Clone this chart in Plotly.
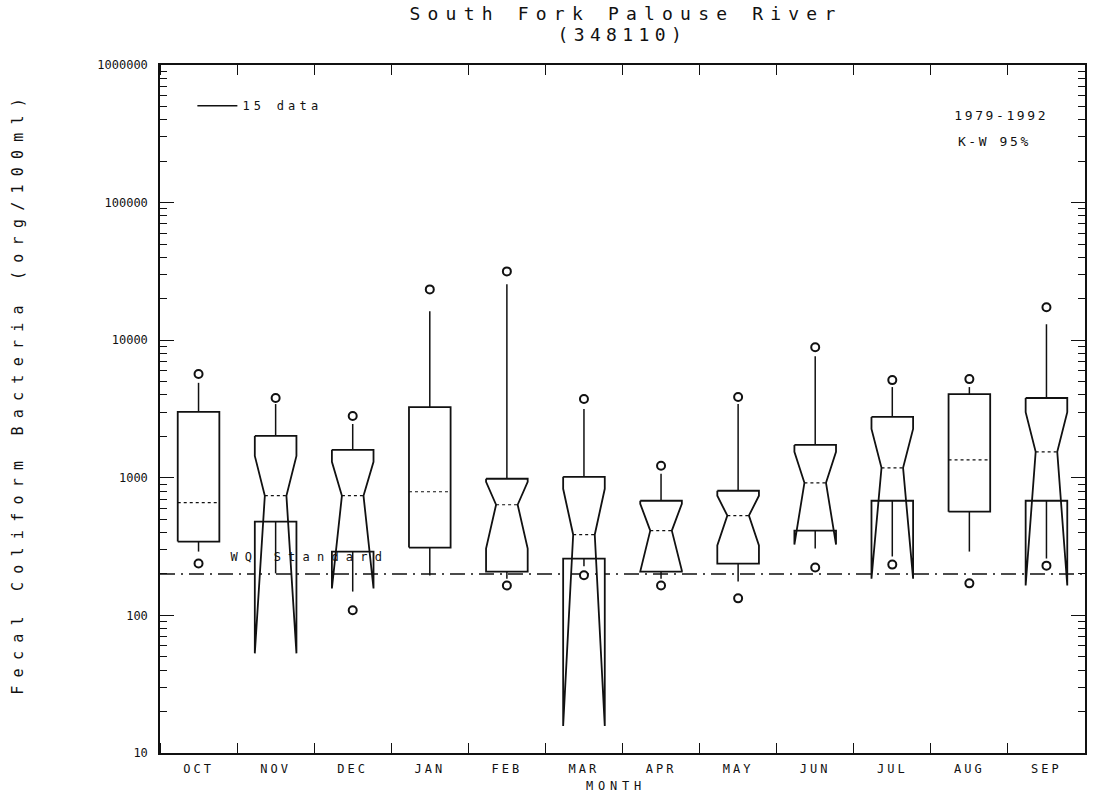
import numpy as np
import plotly.graph_objects as go

# Monthly fecal coliform summary statistics (org/100ml), water years 1979-1992
months = ["OCT", "NOV", "DEC", "JAN", "FEB", "MAR", "APR", "MAY", "JUN", "JUL", "AUG", "SEP"]
q1 = [344, 480, 291, 311, 208, 259, 208, 238, 413, 681, 567, 681]
median = [659, 741, 741, 792, 637, 386, 413, 531, 920, 1181, 1350, 1543]
q3 = [3010, 2015, 1596, 3268, 984, 1017, 681, 805, 1734, 2768, 4062, 3800]
# 95% confidence notches on the median (None = box drawn without notch)
notch_lo = [None, 53, 157, None, 306, 15.7, 212, 322, 327, 185, None, 165]
notch_hi = [None, 1443, 1306, None, 935, 832, 648, 741, 1543, 2265, None, 3000]
whisker_lo = [291, 202, 149, 195, 185, 228, 185, 176, 306, 268, 291, 259]
whisker_hi = [4900, 3436, 2461, 16220, 25460, 3162, 1069, 3436, 7656, 4564, 4564, 13060]
extreme_lo = [238, None, 109, None, 165, 196, 165, 133, 223, 234, 171, 230]
extreme_hi = [5675, 3800, 2813, 23400, 31620, 3736, 1222, 3864, 8894, 5129, 5215, 17340]

wq_standard = 200
y_ticks = [10, 100, 1000, 10000, 100000, 1000000]
y_tick_text = ["10", "100", "1000", "10000", "100000", "1000000"]

FONT = "DejaVu Sans Mono"
INK = "#111111"
BOX_HALF = 0.27
WAIST_HALF = 0.14

fig = go.Figure()

# water quality standard (dash-dot)
fig.add_trace(go.Scatter(
    x=[-0.5, len(months) - 0.5], y=[wq_standard, wq_standard], mode="lines",
    line=dict(color=INK, width=1.4, dash="15px,6px,2px,6px"),
    hoverinfo="skip", showlegend=False))

for i, m in enumerate(months):
    h, w = BOX_HALF, WAIST_HALF
    if notch_lo[i] is None:
        bx = [i - h, i - h, i + h, i + h, i - h]
        by = [q1[i], q3[i], q3[i], q1[i], q1[i]]
        mx = [i - h, i + h]
    else:
        bx = [i - h, i - h, i - w, i - h, i - h, i + h, i + h, i + w, i + h, i + h, i - h]
        by = [q3[i], notch_hi[i], median[i], notch_lo[i], q1[i],
              q1[i], notch_lo[i], median[i], notch_hi[i], q3[i], q3[i]]
        mx = [i - w, i + w]
    # whiskers
    fig.add_trace(go.Scatter(
        x=[i, i, None, i, i],
        y=[q3[i], whisker_hi[i], None, q1[i], whisker_lo[i]],
        mode="lines", line=dict(color=INK, width=1.5),
        hoverinfo="skip", showlegend=False))
    # box outline
    fig.add_trace(go.Scatter(
        x=bx, y=by, mode="lines", fill="toself", fillcolor="white",
        line=dict(color=INK, width=1.8), name=m,
        hoverinfo="skip", showlegend=False))
    # median
    fig.add_trace(go.Scatter(
        x=mx, y=[median[i], median[i]], mode="lines",
        line=dict(color=INK, width=1.2, dash="dot"),
        hoverinfo="skip", showlegend=False))

# extreme values
ex_x, ex_y = [], []
for i in range(len(months)):
    for v in (extreme_lo[i], extreme_hi[i]):
        if v is not None:
            ex_x.append(i)
            ex_y.append(v)
fig.add_trace(go.Scatter(
    x=ex_x, y=ex_y, mode="markers",
    marker=dict(symbol="circle-open", size=8, color=INK, line=dict(width=2, color=INK)),
    hoverinfo="skip", showlegend=False))

# legend entry
fig.add_trace(go.Scatter(
    x=[None], y=[None], mode="lines", name="15 data",
    line=dict(color=INK, width=1.5), showlegend=True))

minor_y = [m * 10 ** d for d in range(1, 6) for m in range(2, 10)]
boundaries = [k - 0.5 for k in range(len(months) + 1)]

fig.update_layout(
    width=1094, height=799,
    margin=dict(l=160, r=7, t=65, b=46),
    paper_bgcolor="white", plot_bgcolor="white",
    font=dict(family=FONT, color=INK, size=12),
    title=dict(text="South Fork Palouse River",
               xref="container", yref="container",
               x=626 / 1094, y=1 - 14 / 799, xanchor="center", yanchor="middle",
               font=dict(family=FONT, size=18, color=INK)),
    showlegend=True,
    legend=dict(x=0.035, y=0.962, xanchor="left", yanchor="top", orientation="h",
                entrywidth=150, entrywidthmode="pixels", itemwidth=40,
                bgcolor="rgba(0,0,0,0)", font=dict(family=FONT, size=12, color=INK)),
    xaxis=dict(
        range=[-0.5, len(months) - 0.5], tickvals=list(range(len(months))), ticktext=months,
        ticks="", showline=True, linecolor=INK, linewidth=1.5, mirror="ticks",
        showgrid=False, zeroline=False, ticklabelstandoff=4,
        tickfont=dict(family=FONT, size=12, color=INK),
        minor=dict(tickmode="array", tickvals=boundaries, ticks="inside",
                   ticklen=10, tickwidth=1.3, tickcolor=INK, showgrid=False),
    ),
    yaxis=dict(
        type="log", range=[1, 6], tickvals=y_ticks, ticktext=y_tick_text,
        ticks="inside", ticklen=14, tickwidth=1.3, tickcolor=INK,
        showline=True, linecolor=INK, linewidth=1.5, mirror="ticks",
        showgrid=False, zeroline=False, ticklabelstandoff=8,
        tickfont=dict(family=FONT, size=12, color=INK),
        minor=dict(tickmode="array", tickvals=minor_y, ticks="inside",
                   ticklen=7, tickwidth=1.2, tickcolor=INK, showgrid=False),
    ),
    annotations=[
        dict(text="Fecal Coliform Bacteria (org/100ml)", textangle=-90,
             xref="paper", yref="paper", x=(18 - 160) / 927, y=(753 - 392) / 688,
             xanchor="center", yanchor="middle", showarrow=False,
             font=dict(family=FONT, size=15, color=INK)),
        dict(text="MONTH", xref="paper", yref="paper",
             x=(617 - 160) / 927, y=(753 - 786) / 688,
             xanchor="center", yanchor="middle", showarrow=False,
             font=dict(family=FONT, size=12, color=INK)),
        dict(text="1979-1992", xref="paper", yref="paper",
             x=(1003 - 160) / 927, y=(753 - 115) / 688,
             xanchor="center", yanchor="middle", showarrow=False,
             font=dict(family=FONT, size=13, color=INK)),
        dict(text="K-W 95%", xref="paper", yref="paper",
             x=(996 - 160) / 927, y=(753 - 141) / 688,
             xanchor="center", yanchor="middle", showarrow=False,
             font=dict(family=FONT, size=13, color=INK)),
        dict(text="WQ Standard", xref="x", yref="y",
             x=1.44, y=np.log10(266),
             xanchor="center", yanchor="middle", showarrow=False,
             font=dict(family=FONT, size=12, color=INK)),
        dict(text="(348110)", xref="paper", yref="paper",
             x=(624 - 160) / 927, y=(753 - 34) / 688,
             xanchor="center", yanchor="middle", showarrow=False,
             font=dict(family=FONT, size=18, color=INK)),
    ],
)

# wide plotter-style lettering
spacing_css = """
var st = document.createElement('style');
st.textContent = [
  '.gtitle { letter-spacing: 0.4em; }',
  '.xtick text { letter-spacing: 0.25em; }',
  '.legendtext { letter-spacing: 0.35em; }',
  'g.annotation[data-index="0"] text { letter-spacing: 0.55em; }',
  'g.annotation[data-index="1"] text { letter-spacing: 0.4em; }',
  'g.annotation[data-index="2"] text { letter-spacing: 0.2em; }',
  'g.annotation[data-index="3"] text { letter-spacing: 0.2em; }',
  'g.annotation[data-index="4"] text { letter-spacing: 0.6em; }',
  'g.annotation[data-index="5"] text { letter-spacing: 0.3em; }'
].join('\\n');
document.head.appendChild(st);
"""

fig.write_html("out.html", post_script=spacing_css)
